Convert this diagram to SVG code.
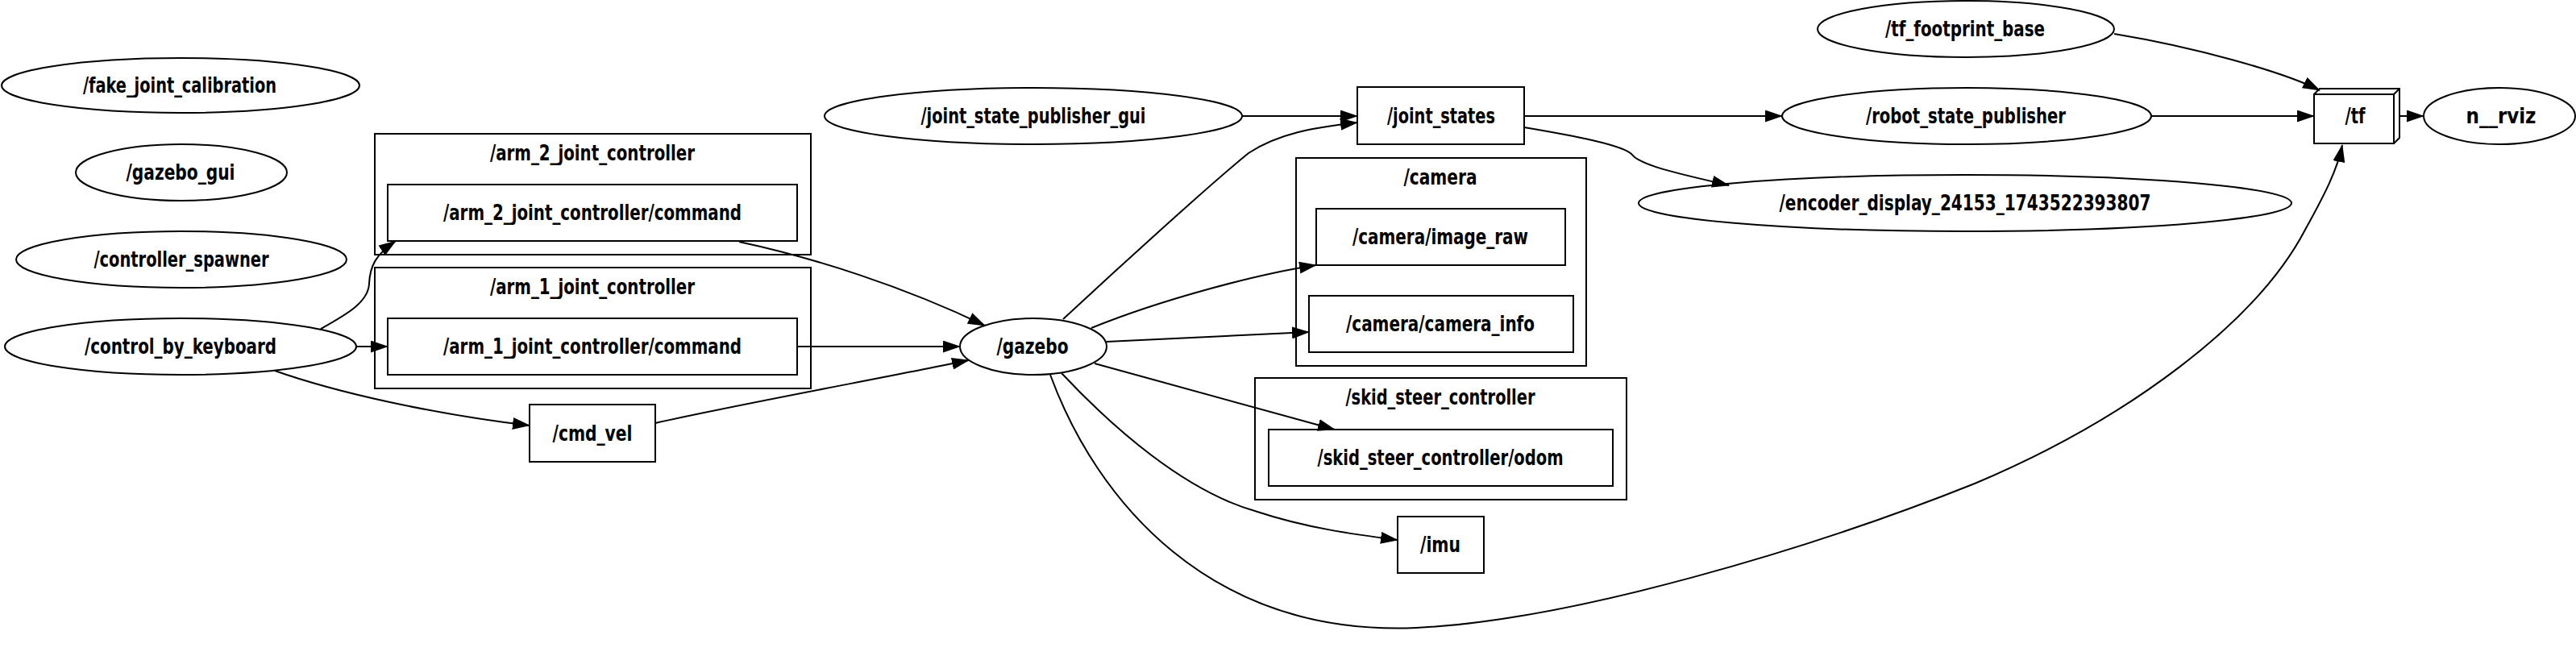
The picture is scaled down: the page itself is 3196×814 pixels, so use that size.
<svg xmlns="http://www.w3.org/2000/svg" width="3196" height="814" viewBox="0 0 3196 814">
<style>
.n{fill:none;stroke:#000;stroke-width:2}
.c{fill:none;stroke:#000;stroke-width:2}
.t{font-family:"DejaVu Sans Condensed","DejaVu Sans",sans-serif;font-weight:bold;font-size:26px;text-anchor:middle;fill:#000}
.e{fill:none;stroke:#000;stroke-width:2;marker-end:url(#ah)}
</style>
<defs>
<marker id="ah" viewBox="0 0 22 15" refX="21" refY="7.5" markerWidth="22" markerHeight="15" markerUnits="userSpaceOnUse" orient="auto">
<path d="M0,0 L22,7.5 L0,15 Z" fill="#000"/>
</marker>
</defs>
<rect width="3196" height="814" fill="#fff"/>

<g id="fake_joint_calibration"><ellipse class="n" cx="224" cy="106" rx="222" ry="34"/><text class="t" x="223" y="115" textLength="240" lengthAdjust="spacingAndGlyphs">/fake_joint_calibration</text></g>
<g id="gazebo_gui"><ellipse class="n" cx="225" cy="214" rx="131" ry="35"/><text class="t" x="224" y="223" textLength="135" lengthAdjust="spacingAndGlyphs">/gazebo_gui</text></g>
<g id="controller_spawner"><ellipse class="n" cx="225" cy="322" rx="205" ry="35"/><text class="t" x="225" y="331" textLength="217" lengthAdjust="spacingAndGlyphs">/controller_spawner</text></g>
<g id="control_by_keyboard"><ellipse class="n" cx="224" cy="430" rx="218" ry="35"/><text class="t" x="224" y="439" textLength="238" lengthAdjust="spacingAndGlyphs">/control_by_keyboard</text></g>

<g id="cluster_arm_2_joint_controller"><rect class="c" x="465" y="166" width="541" height="150"/><text class="t" x="735" y="199" textLength="254" lengthAdjust="spacingAndGlyphs">/arm_2_joint_controller</text></g>
<g id="arm_2_joint_controller_command"><rect class="n" x="481" y="229" width="508" height="70"/><text class="t" x="735" y="273" textLength="370" lengthAdjust="spacingAndGlyphs">/arm_2_joint_controller/command</text></g>
<g id="cluster_arm_1_joint_controller"><rect class="c" x="465" y="332" width="541" height="150"/><text class="t" x="735" y="365" textLength="254" lengthAdjust="spacingAndGlyphs">/arm_1_joint_controller</text></g>
<g id="arm_1_joint_controller_command"><rect class="n" x="481" y="395" width="508" height="70"/><text class="t" x="735" y="439" textLength="370" lengthAdjust="spacingAndGlyphs">/arm_1_joint_controller/command</text></g>
<g id="cmd_vel"><rect class="n" x="657" y="502" width="156" height="71"/><text class="t" x="735" y="547" textLength="99" lengthAdjust="spacingAndGlyphs">/cmd_vel</text></g>

<g id="gazebo"><ellipse class="n" cx="1282" cy="430" rx="91" ry="35"/><text class="t" x="1281" y="439" textLength="89" lengthAdjust="spacingAndGlyphs">/gazebo</text></g>
<g id="joint_state_publisher_gui"><ellipse class="n" cx="1282" cy="144" rx="259" ry="35"/><text class="t" x="1282" y="153" textLength="279" lengthAdjust="spacingAndGlyphs">/joint_state_publisher_gui</text></g>
<g id="joint_states"><rect class="n" x="1684" y="108" width="207" height="71"/><text class="t" x="1788" y="153" textLength="134" lengthAdjust="spacingAndGlyphs">/joint_states</text></g>

<g id="cluster_camera"><rect class="c" x="1608" y="196" width="360" height="258"/><text class="t" x="1787" y="229" textLength="91" lengthAdjust="spacingAndGlyphs">/camera</text></g>
<g id="camera_image_raw"><rect class="n" x="1633" y="259" width="309" height="70"/><text class="t" x="1787" y="303" textLength="218" lengthAdjust="spacingAndGlyphs">/camera/image_raw</text></g>
<g id="camera_camera_info"><rect class="n" x="1624" y="367" width="328" height="70"/><text class="t" x="1787" y="411" textLength="234" lengthAdjust="spacingAndGlyphs">/camera/camera_info</text></g>

<g id="cluster_skid_steer_controller"><rect class="c" x="1557" y="469" width="461" height="151"/><text class="t" x="1787" y="502" textLength="235" lengthAdjust="spacingAndGlyphs">/skid_steer_controller</text></g>
<g id="skid_steer_controller_odom"><rect class="n" x="1574" y="533" width="427" height="70"/><text class="t" x="1787" y="577" textLength="305" lengthAdjust="spacingAndGlyphs">/skid_steer_controller/odom</text></g>
<g id="imu"><rect class="n" x="1734" y="641" width="107" height="70"/><text class="t" x="1787" y="685" textLength="50" lengthAdjust="spacingAndGlyphs">/imu</text></g>

<g id="tf_footprint_base"><ellipse class="n" cx="2439" cy="36" rx="184" ry="35"/><text class="t" x="2438" y="45" textLength="198" lengthAdjust="spacingAndGlyphs">/tf_footprint_base</text></g>
<g id="robot_state_publisher"><ellipse class="n" cx="2440" cy="144" rx="229" ry="35"/><text class="t" x="2439" y="153" textLength="248" lengthAdjust="spacingAndGlyphs">/robot_state_publisher</text></g>
<g id="encoder_display"><ellipse class="n" cx="2438" cy="252" rx="405" ry="35"/><text class="t" x="2438" y="261" textLength="461" lengthAdjust="spacingAndGlyphs">/encoder_display_24153_1743522393807</text></g>
<g id="tf"><path class="n" d="M2871,117 H2970 V178 H2871 Z M2871,117 L2878,110 H2977 V171 L2970,178 M2970,117 L2977,110"/><text class="t" x="2922" y="153" textLength="25" lengthAdjust="spacingAndGlyphs">/tf</text></g>
<g id="n__rviz"><ellipse class="n" cx="3101" cy="144" rx="94" ry="35"/><text class="t" x="3103" y="153" textLength="87" lengthAdjust="spacingAndGlyphs">n__rviz</text></g>

<g id="connectors">
<path class="e" d="M398,408 C430,390 457,375 458,352 C459,330 466,316 491,299"/>
<path class="e" d="M442,430 L481,430"/>
<path class="e" d="M341,460 C420,488 540,514 657,528"/>
<path class="e" d="M917,300 C1010,320 1120,355 1222,404"/>
<path class="e" d="M989,430 L1191,430"/>
<path class="e" d="M813,525 C900,505 1100,468 1202,447"/>
<path class="e" d="M1541,144 L1684,144"/>
<path class="e" d="M1319,396 C1390,330 1500,230 1549,190 C1585,166 1630,158 1684,152"/>
<path class="e" d="M1354,407 C1440,372 1560,340 1633,329"/>
<path class="e" d="M1373,424 L1624,412"/>
<path class="e" d="M1358,451 L1656,533"/>
<path class="e" d="M1317,463 C1380,530 1470,610 1560,635 C1620,655 1680,663 1734,670"/>
<path class="e" d="M1303,465 C1360,620 1500,790 1757,779 C1950,770 2250,680 2450,600 C2640,520 2800,400 2860,285 C2885,240 2900,210 2906,180"/>
<path class="e" d="M1891,144 L2211,144"/>
<path class="e" d="M1891,158 C1950,168 2015,180 2025,192 C2035,205 2080,215 2145,230"/>
<path class="e" d="M2669,144 L2871,144"/>
<path class="e" d="M2623,42 C2720,58 2830,88 2878,112"/>
<path class="e" d="M2977,144 L3007,144"/>
</g>
</svg>
